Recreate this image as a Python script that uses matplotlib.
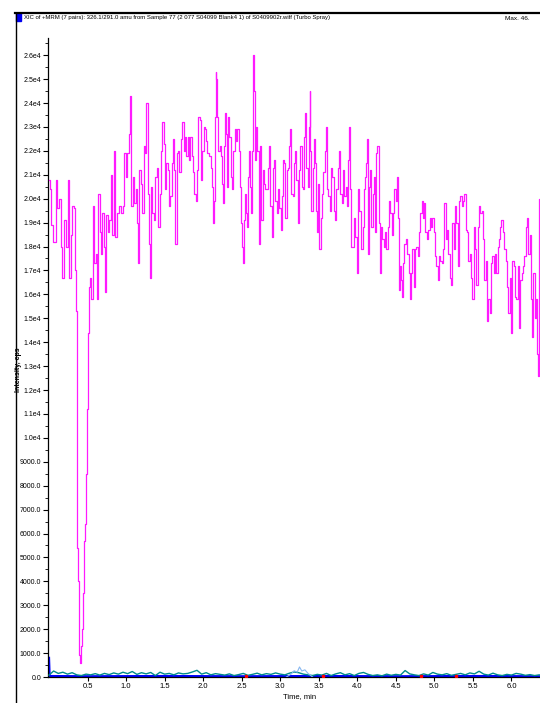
import numpy as np
import matplotlib
matplotlib.use("Agg")
import matplotlib.pyplot as plt
from matplotlib import font_manager
from matplotlib.lines import Line2D
from matplotlib.patches import Rectangle
from matplotlib.ticker import FixedLocator, FixedFormatter, MultipleLocator

# ---------------- data ----------------
# magenta trace (time in min, intensity in thousands of cps)
mag_t = [0.0,0.013,0.035,0.069,0.10,0.12,0.143,0.165,0.185,0.208,0.23,0.25,0.272,0.294,0.315,0.337,0.346,0.359,0.363,0.367,0.372,0.38,0.389,0.402,0.411,0.424,0.441,0.45,0.458,0.471,0.484,0.497,0.51,0.523,0.536,0.554,0.575,0.597,0.619,0.632,0.649,0.666,0.684,0.70,0.718,0.735,0.752,0.77,0.795,0.813,0.834,0.852,0.873,0.899,0.921,0.943,0.969,
         0.986,1.007,1.029,1.046,1.063,1.077,1.098,1.115,1.133,1.15,1.163,1.18,1.202,1.219,1.237,1.254,1.275,1.288,1.301,1.314,1.331,1.353,1.371,1.388,1.405,1.427,1.444,1.461,1.479,1.496,1.513,1.531,1.548,1.565,1.582,1.6,1.617,1.634,1.647,1.664,1.682,1.703,1.721,1.738,1.755,1.772,1.79,1.807,1.824,1.842,1.859,1.876,1.893,1.911,1.928,1.945,1.963,1.98,1.997,2.015,
         2.023,2.045,2.067,2.088,2.11,2.118,2.131,2.144,2.157,2.166,2.179,2.192,2.205,2.222,2.24,2.252,2.265,2.283,2.296,2.309,2.322,2.335,2.348,2.365,2.382,2.4,2.417,2.434,2.451,2.469,2.481,2.499,2.512,2.525,2.538,2.551,2.564,2.577,2.59,2.603,2.616,2.629,2.642,2.655,2.663,2.676,2.694,2.711,2.728,2.746,2.763,2.78,2.797,2.815,2.832,2.849,2.862,2.879,2.897,2.914,2.927,2.944,2.961,2.979,2.996,3.013,3.031,3.048,
         3.061,3.074,3.091,3.108,3.126,3.139,3.152,3.169,3.186,3.204,3.217,3.234,3.251,3.268,3.286,3.303,3.32,3.333,3.346,3.364,3.377,3.385,3.398,3.411,3.428,3.446,3.459,3.472,3.485,3.502,3.515,3.532,3.55,3.567,3.584,3.597,3.614,3.632,3.649,3.666,3.683,3.701,3.718,3.735,3.752,3.77,3.787,3.804,3.821,3.839,3.856,3.873,3.89,3.903,3.916,3.929,3.947,3.964,3.981,3.998,4.016,4.033,4.05,4.067,4.085,
         4.099,4.112,4.125,4.138,4.15,4.163,4.176,4.189,4.207,4.22,4.233,4.25,4.267,4.285,4.298,4.315,4.332,4.35,4.367,4.384,4.401,4.419,4.436,4.453,4.47,4.488,4.505,4.518,4.531,4.544,4.557,4.574,4.587,4.6,4.62,4.639,4.656,4.673,4.69,4.708,4.721,4.738,4.755,4.772,4.79,4.807,4.824,4.842,4.859,4.876,4.893,4.911,4.928,4.945,4.963,4.98,4.997,5.014,5.032,5.049,5.066,5.084,5.101,5.118,
         5.136,5.153,5.171,5.188,5.205,5.223,5.24,5.257,5.274,5.292,5.309,5.326,5.344,5.361,5.378,5.395,5.413,5.43,5.447,5.465,5.482,5.499,5.516,5.534,5.551,5.568,5.586,5.603,5.62,5.637,5.655,5.672,5.689,5.707,5.724,5.741,5.758,5.776,5.793,5.81,5.828,5.845,5.862,5.879,5.897,5.914,5.931,5.949,5.966,5.983,6.0,6.018,6.035,6.052,6.07,6.087,6.104,6.122,6.139,6.156,6.174,6.191,6.208,6.226,6.243,6.26,6.269,6.282,6.299,6.312,6.325,6.338,6.347,6.355,6.364]
mag_k = [20.8,20.4,18.9,18.2,20.8,19.6,20.0,18.0,16.7,19.1,18.0,20.8,16.7,18.5,19.7,19.6,17.0,15.3,12.0,8.5,5.4,4.0,2.3,0.9,0.6,1.3,2.0,3.5,5.7,6.4,8.5,11.2,14.4,16.3,16.7,15.8,19.7,17.3,17.7,15.8,20.2,18.6,17.7,19.4,18.0,16.1,19.3,18.6,19.1,21.0,18.5,22.0,18.4,19.4,19.7,19.4,19.7,
         21.9,20.9,21.9,22.7,24.3,19.7,20.9,19.8,20.4,19.0,17.3,21.2,20.6,19.4,22.2,21.9,24.0,20.2,18.1,16.7,20.5,19.4,19.1,20.9,21.3,18.8,20.2,22.0,23.2,22.3,20.4,21.5,21.2,19.7,20.1,21.5,22.5,21.2,18.1,21.9,22.0,21.1,22.5,23.2,22.0,22.6,21.8,22.6,21.6,22.6,21.8,21.1,20.2,19.9,21.2,23.4,23.3,20.8,22.0,23.0,
         22.9,22.4,21.9,21.8,21.3,20.5,19.0,19.9,23.4,25.3,25.0,23.4,22.0,22.2,21.8,20.6,19.8,22.2,23.6,22.7,20.5,23.4,22.6,20.9,20.4,22.0,22.9,22.4,22.9,22.0,20.5,19.0,18.0,17.3,19.1,20.2,19.4,18.8,20.9,22.0,20.5,19.4,22.0,26.0,24.5,21.6,23.0,22.0,18.1,22.2,19.1,21.2,20.6,20.4,20.4,21.3,22.2,19.7,18.4,21.3,21.6,19.9,19.4,20.4,19.6,18.7,20.1,21.6,
         21.5,19.2,21.2,21.3,22.2,22.9,20.2,20.1,21.5,22.0,20.8,19.0,21.2,22.2,20.5,20.4,22.6,23.6,21.3,20.5,23.0,24.5,22.0,19.5,21.3,22.5,21.5,19.5,18.6,20.6,17.9,19.2,20.2,21.1,22.0,23.0,20.4,20.1,19.5,21.3,20.9,19.5,19.1,20.4,21.3,22.0,20.2,19.8,21.2,20.1,20.5,19.7,21.6,23.0,20.4,18.0,18.0,19.2,18.4,16.9,20.4,19.5,17.9,17.9,18.8,
         20.4,20.9,21.5,22.5,17.7,20.5,21.2,18.8,20.2,20.9,18.6,21.9,22.2,19.0,16.9,18.8,18.3,18.0,18.6,17.9,18.8,19.9,19.4,18.5,19.4,20.4,19.9,20.9,19.2,16.2,17.2,16.6,15.9,17.3,18.1,18.3,17.7,16.9,15.8,16.9,17.9,16.3,17.9,18.0,17.6,18.6,19.4,19.9,19.2,19.8,18.6,18.3,18.7,19.2,18.8,19.2,18.6,17.6,17.2,16.6,17.6,17.4,17.3,17.9,
         19.8,18.3,18.7,17.7,16.7,16.4,19.0,17.9,19.7,19.0,17.2,19.9,20.1,19.7,19.9,20.2,18.7,18.6,17.4,17.7,16.7,15.8,18.8,17.9,16.4,18.8,19.7,19.4,19.5,18.3,16.6,17.4,14.9,15.8,15.2,17.3,17.6,16.9,17.7,16.9,18.0,18.3,18.8,19.1,18.6,17.9,17.4,16.3,15.2,16.7,14.4,17.4,17.2,15.9,15.8,17.2,14.6,16.6,16.9,17.2,17.6,18.8,19.2,17.7,18.5,15.8,14.2,16.9,16.9,15.0,15.8,13.5,12.6,15.8,20.0]

# teal trace (cps)
teal_t = [0.00,0.06,0.12,0.18,0.24,0.30,0.36,0.42,0.48,0.54,0.60,0.66,0.72,0.78,0.84,0.90,0.96,1.02,1.08,1.14,1.20,1.26,1.32,1.38,1.44,1.50,1.56,1.62,1.68,1.74,1.80,1.86,1.92,1.98,2.04,2.10,2.16,2.22,2.28,2.34,2.40,2.46,2.52,2.58,2.64,2.70,2.76,2.82,2.88,2.94,3.00,3.06,3.12,3.18,3.24,3.30,3.36,3.42,3.48,3.54,3.60,3.66,3.72,3.78,3.84,3.90,3.96,4.02,4.08,4.14,4.20,4.26,4.32,4.38,4.44,4.50,4.56,4.62,4.68,4.74,4.80,4.86,4.92,4.98,5.04,5.10,5.16,5.22,5.28,5.34,5.40,5.46,5.52,5.58,5.64,5.70,5.76,5.82,5.88,5.94,6.00,6.06,6.12,6.18,6.24,6.30,6.36]
teal_v = [80,250,150,200,120,180,90,60,120,90,140,80,150,100,170,120,200,140,230,110,180,130,190,60,200,120,150,90,170,130,150,210,280,120,180,90,140,110,80,130,60,100,150,70,110,160,90,140,110,170,120,90,160,210,180,120,90,60,110,80,150,60,130,180,90,140,60,150,190,110,60,90,50,120,70,110,80,270,130,90,60,130,80,190,120,90,140,70,110,150,90,170,130,240,120,80,160,90,60,110,80,150,120,70,100,60,90]

# light blue bump (cps)
lb_t = [3.08,3.14,3.18,3.22,3.25,3.28,3.32,3.36,3.42]
lb_v = [0,120,260,200,420,250,300,150,0]

# blue baseline (cps)
blue_t = [0.0,0.008,0.5,1.5,2.5,3.5,4.5,5.5,6.37]
blue_v = [800,40,30,40,30,40,30,40,30]

# red fragments (cps)
red_t = [2.56,3.55,4.83,5.28]
red_v = [30,30,30,30]

# axis ticks
y_ticks = [0,1000,2000,3000,4000,5000,6000,7000,8000,9000,10000,11000,12000,13000,14000,15000,16000,17000,18000,19000,20000,21000,22000,23000,24000,25000,26000]
x_ticks = [0.5,1.0,1.5,2.0,2.5,3.0,3.5,4.0,4.5,5.0,5.5,6.0]

title = "XIC of +MRM (7 pairs): 326.1/291.0 amu from Sample 77 (2 077 S04099 Blank4 1) of S0409902r.wiff (Turbo Spray)"
max_text = "Max. 46."

# ---------------- fonts ----------------
avail = {f.name for f in font_manager.fontManager.ttflist}
fam = [f for f in ["Liberation Sans Narrow", "Liberation Sans", "DejaVu Sans"] if f in avail]
plt.rcParams['font.family'] = fam

W, H = 540, 703
fig = plt.figure(figsize=(W/100, H/100), dpi=100)
ax = fig.add_axes([48/W, 1-677/H, 1-48/W, (677-38)/H])

mag = np.array(mag_k) * 1000.0
ax.plot(blue_t, blue_v, color='#0000ff', lw=1.6, zorder=2)
ax.plot(teal_t, teal_v, color='#008b8b', lw=1.0, zorder=3)
ax.plot(lb_t, lb_v, color='#87b7f0', lw=0.8, zorder=3)
ax.plot(red_t, red_v, 's', ms=1.6, color='#ff0000', zorder=4)
ax.plot(mag_t, mag, color='#ff1aff', lw=0.9, drawstyle='steps-mid', zorder=5)

ax.set_xlim(-0.013, 6.37)
ax.set_ylim(0, 26720)

ax.yaxis.set_major_locator(FixedLocator(y_ticks))
ax.yaxis.set_major_formatter(FixedFormatter([f"{v:.1f}" if v < 10000 else f"{v/1e4:.1f}e4" for v in y_ticks]))
ax.yaxis.set_minor_locator(MultipleLocator(500))
ax.xaxis.set_major_locator(FixedLocator(x_ticks))
ax.xaxis.set_major_formatter(FixedFormatter([f"{v:.1f}" for v in x_ticks]))

ax.tick_params(axis='y', which='major', length=3.5, width=0.8, labelsize=5.0, pad=1.5)
ax.tick_params(axis='y', which='minor', length=2, width=0.6)
ax.tick_params(axis='x', which='major', length=3, width=0.8, labelsize=5.5, pad=1.5)
for s in ['top', 'right']:
    ax.spines[s].set_visible(False)
for s in ['left', 'bottom']:
    ax.spines[s].set_linewidth(0.9)

# frame and header
fig.add_artist(Line2D([15/W, 1], [1-13/H, 1-13/H], color='black', lw=1.6))
fig.add_artist(Line2D([15.5/W, 15.5/W], [0, 1-13/H], color='black', lw=1.0))
fig.add_artist(Rectangle((16/W, 1-21/H), 5/W, 8/H, color='#0000ee'))
fig.text(24/W, 1-18/H, title, fontsize=4.3, va='center', ha='left')
fig.text(505/W, 1-18/H, max_text, fontsize=4.6, va='center', ha='left')
fig.text(19/W, 1-370/H, "Intensity, cps", fontsize=5.0, rotation=90, va='center', ha='center', fontweight='bold')
fig.text(300/W, 1-697/H, "Time, min", fontsize=5.5, va='center', ha='center')

fig.savefig("out.png", dpi=100)
